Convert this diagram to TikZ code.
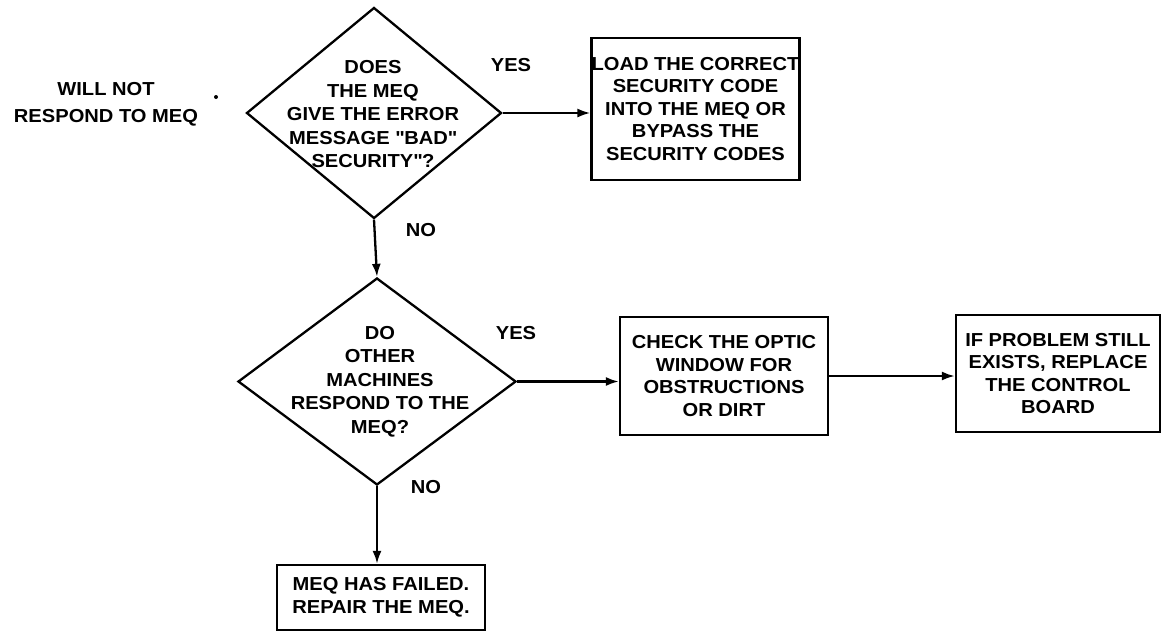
\documentclass[tikz,border=0pt]{standalone}
\usepackage{fontspec}
\setmainfont{Liberation Sans}[FakeStretch=1.07]
\usetikzlibrary{arrows.meta,shapes.geometric}
\begin{document}
\begin{tikzpicture}[x=1pt,y=-1pt, line width=2.3pt,
  txt/.style={font=\bfseries\fontsize{18.8pt}{22.5pt}\selectfont, align=center, inner sep=0pt},
  box/.style={txt, draw, rectangle},
  dia/.style={draw, diamond, inner sep=0pt},
  dtext/.style={txt, font=\bfseries\fontsize{18.8pt}{23.5pt}\selectfont},
  arr/.style={-{Latex[length=13pt,width=9pt]}}]
\useasboundingbox (0,0) rectangle (1162,635);

% start label
\node[txt, font=\bfseries\fontsize{18.8pt}{27pt}\selectfont] (start) at (106,104.5) {WILL NOT\\RESPOND TO MEQ};
\fill (216,97) circle (2pt);

% diamonds
\node[dia, minimum width=255pt, minimum height=211pt] (d1) at (374,113) {};
\node[dtext] (t1) at (373,114.5) {DOES\\THE MEQ\\GIVE THE ERROR\\MESSAGE \textquotedbl BAD\textquotedbl\\SECURITY\textquotedbl ?};
\node[dia, minimum width=278pt, minimum height=207pt] (d2) at (377,381.5) {};
\node[dtext] (t2) at (380,381.5) {DO\\OTHER\\MACHINES\\RESPOND TO THE\\MEQ?};

% boxes
\node[box, minimum width=207pt, minimum height=142pt] (b1) at (695.5,109) {LOAD THE CORRECT\\SECURITY CODE\\INTO THE MEQ OR\\BYPASS THE\\SECURITY CODES};
\node[box, minimum width=208pt, minimum height=118pt] (b2) at (724,376) {CHECK THE OPTIC\\WINDOW FOR\\OBSTRUCTIONS\\OR DIRT};
\node[box, minimum width=204pt, minimum height=117pt] (b3) at (1058,373.5) {IF PROBLEM STILL\\EXISTS, REPLACE\\THE CONTROL\\BOARD};
\node[box, minimum width=208pt, minimum height=65pt] (b4) at (381,597.5) {MEQ HAS FAILED.\\REPAIR THE MEQ.};

% labels
\node[txt] (yes1) at (511,65) {YES};
\node[txt] (no1) at (421,230) {NO};
\node[txt] (yes2) at (516,333) {YES};
\node[txt] (no2) at (426,487) {NO};

% connectors
\draw[arr] (d1.east) -- (d1.east -| b1.west);
\draw[arr] (d1.south) -- (d2.north);
\draw[arr] (d2.east) -- (d2.east -| b2.west);
\draw[arr] (b2.east) -- (b2.east -| b3.west);
\draw[arr] (d2.south) -- (d2.south |- b4.north);
\end{tikzpicture}
\end{document}
